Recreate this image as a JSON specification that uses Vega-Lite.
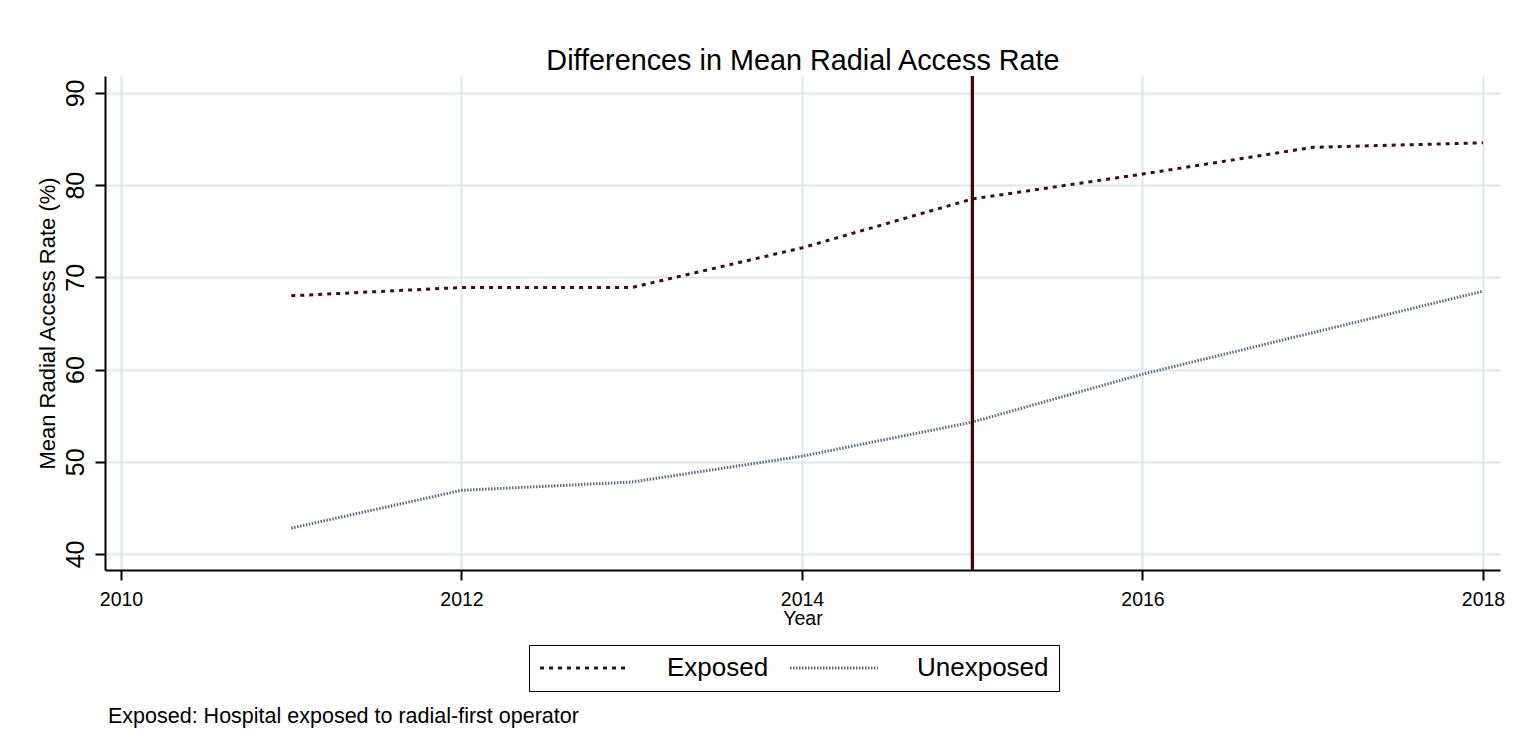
{
  "$schema": "https://vega.github.io/schema/vega-lite/v6.json",
  "width": 1395,
  "height": 494,
  "autosize": "none",
  "padding": {"left": 105, "top": 76, "right": 17, "bottom": 181},
  "background": "white",
  "config": {
    "font": "Liberation Sans",
    "view": {"stroke": null},
    "axis": {"gridColor": "#dfe8e8", "gridWidth": 2, "domainColor": "black", "domainWidth": 2, "tickColor": "black", "tickWidth": 2, "labelColor": "black", "titleColor": "black", "labelFont": "Liberation Sans", "titleFont": "Liberation Sans", "titleFontWeight": "normal"}
  },
  "title": {"text": "Exposed: Hospital exposed to radial-first operator", "orient": "bottom", "anchor": "start", "frame": "group", "fontSize": 21.5, "fontWeight": "normal", "color": "black", "offset": 14, "dx": 3},
  "data": {"values": [
    {"year": 2011, "rate": 68.0, "group": "Exposed"},
    {"year": 2012, "rate": 68.9, "group": "Exposed"},
    {"year": 2013, "rate": 68.9, "group": "Exposed"},
    {"year": 2014, "rate": 73.2, "group": "Exposed"},
    {"year": 2015, "rate": 78.5, "group": "Exposed"},
    {"year": 2016, "rate": 81.2, "group": "Exposed"},
    {"year": 2017, "rate": 84.1, "group": "Exposed"},
    {"year": 2018, "rate": 84.6, "group": "Exposed"},
    {"year": 2011, "rate": 42.8, "group": "Unexposed"},
    {"year": 2012, "rate": 46.9, "group": "Unexposed"},
    {"year": 2013, "rate": 47.8, "group": "Unexposed"},
    {"year": 2014, "rate": 50.6, "group": "Unexposed"},
    {"year": 2015, "rate": 54.3, "group": "Unexposed"},
    {"year": 2016, "rate": 59.5, "group": "Unexposed"},
    {"year": 2017, "rate": 64.0, "group": "Unexposed"},
    {"year": 2018, "rate": 68.5, "group": "Unexposed"}
  ]},
  "resolve": {"axis": {"x": "independent"}},
  "layer": [
    {
      "mark": {"type": "line", "strokeWidth": 3},
      "encoding": {
        "x": {"field": "year", "type": "quantitative", "scale": {"domain": [2009.906, 2018.1], "nice": false, "zero": false},
          "axis": {"values": [2010, 2012, 2014, 2016, 2018], "format": "d", "title": "Year", "titleFontSize": 19.5, "titlePadding": 1, "labelFontSize": 19.5, "labelPadding": 10, "tickSize": 10, "grid": true}},
        "y": {"field": "rate", "type": "quantitative", "scale": {"domain": [38.26, 91.84], "nice": false, "zero": false},
          "axis": {"values": [40, 50, 60, 70, 80, 90], "title": "Mean Radial Access Rate (%)", "titleFontSize": 22, "titlePadding": 4, "labelFontSize": 25, "labelAngle": -90, "labelAlign": "center", "labelBaseline": "bottom", "labelPadding": 7, "tickSize": 10, "grid": true}},
        "color": {"field": "group", "type": "nominal", "scale": {"domain": ["Exposed", "Unexposed"], "range": ["#3a1016", "#5c6b7d"]},
          "legend": {"title": null, "orient": "none", "legendX": 424, "legendY": 569, "direction": "horizontal", "strokeColor": "black", "padding": 10, "labelFontSize": 26, "labelColor": "black", "symbolType": "M-4,0H4", "symbolSize": 484, "symbolStrokeWidth": 3, "symbolOffset": 32, "labelOffset": 70, "columnPadding": 15}},
        "strokeDash": {"field": "group", "type": "nominal", "scale": {"domain": ["Exposed", "Unexposed"], "range": [[4, 5], [1.5, 1.5]]}, "legend": null}
      }
    },
    {
      "mark": {"type": "rule", "color": "#3b0a0f", "strokeWidth": 2.5},
      "encoding": {
        "x": {"datum": 2015, "type": "quantitative",
          "axis": {"orient": "top", "title": "Differences in Mean Radial Access Rate", "titleFontSize": 28.8, "titlePadding": 1, "labels": false, "ticks": false, "domain": false, "grid": false}}
      }
    }
  ]
}
